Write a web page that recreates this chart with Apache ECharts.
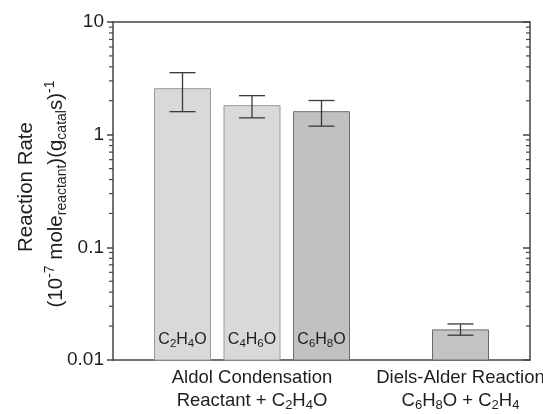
<!DOCTYPE html>
<html><head><meta charset="utf-8">
<script src="https://cdn.jsdelivr.net/npm/echarts@6/dist/echarts.min.js"></script>
<style>html,body{margin:0;padding:0;background:#fff}#c{width:543px;height:414px}</style>
</head><body><div id="c"></div>
<script>
// ---- data ----
const categories = ['', 'C2H4O', 'C4H6O', 'C6H8O', '', 'C6H8O + C2H4', ''];
const rates   = [null, 2.56, 1.81, 1.60, null, 0.0185, null];
const errLow  = [null, 1.60, 1.41, 1.19, null, 0.0166, null];
const errHigh = [null, 3.55, 2.22, 2.01, null, 0.0209, null];
const barLabels = ['', 'C2H4O', 'C4H6O', 'C6H8O', '', '', ''];
const groupLabels = ['', '', 'Aldol Condensation\nReactant + C2H4O', '', '', 'Diels-Alder Reaction\nC6H8O + C2H4', ''];
const yTickValues = [0.01, 0.1, 1, 10];
const yTickLabels = ['0.01', '0.1', '1', '10'];
const yTitle1 = 'Reaction Rate';
// ---- style ----
const barFill   = ['', '#d9d9d9', '#d9d9d9', '#c1c1c1', '', '#c3c3c3', ''];
const barStroke = ['', '#9c9c9c', '#9c9c9c', '#6e6e6e', '', '#6a6a6a', ''];
const TXT = '#1e1e1e';
const FONT = 'Liberation Sans, Arial, sans-serif';
const Y_MIN = 0.01, Y_MAX = 10;

function chem(str, n, s) {
  return str.split('\n').map(line => {
    let out = '';
    const re = /([^0-9]+)|([0-9]+)/g; let m;
    while ((m = re.exec(line))) {
      if (m[1]) out += '{' + n + '|' + m[1] + '}';
      else out += '{' + s + '|' + m[2] + '}';
    }
    return out;
  }).join('\n');
}

const barData = [];
categories.forEach((c, i) => {
  if (rates[i] != null) barData.push([i, rates[i], errLow[i], errHigh[i]]);
});
const minorData = [];
[0.01, 0.1, 1].forEach(d => { for (let k = 2; k <= 9; k++) minorData.push([0, d * k]); });

const chart = echarts.init(document.getElementById('c'), null, {renderer: 'canvas'});
const axisLineStyle = {color: '#444', width: 1.5};

chart.setOption({
  animation: false,
  backgroundColor: '#fff',
  grid: {left: 113, right: 13, top: 22, bottom: 54, containLabel: false, outerBoundsMode: 'none'},
  xAxis: [{
    type: 'category', data: categories, boundaryGap: false,
    axisLine: {lineStyle: axisLineStyle, onZero: false},
    axisTick: {show: false},
    axisLabel: {
      interval: 0, margin: 6, color: TXT,
      formatter: (v, idx) => groupLabels[idx] ? chem(groupLabels[idx], 'n', 's') : '',
      rich: {
        n: {fontSize: 18.5, fontFamily: FONT, color: TXT, lineHeight: 23},
        s: {fontSize: 13, fontFamily: FONT, color: TXT, lineHeight: 12, verticalAlign: 'bottom'}
      }
    },
    splitLine: {show: false}
  }, {
    type: 'category', data: categories, boundaryGap: false, position: 'top',
    axisLine: {lineStyle: axisLineStyle, onZero: false},
    axisTick: {show: false}, axisLabel: {show: false}, splitLine: {show: false}
  }],
  yAxis: [{
    type: 'log', logBase: 10, min: Y_MIN, max: Y_MAX,
    axisLine: {show: true, lineStyle: axisLineStyle},
    axisTick: {show: true, inside: false, length: 6, lineStyle: {color: '#444', width: 1.5}},
    axisLabel: {
      margin: 9, fontSize: 19, fontFamily: FONT, color: TXT,
      formatter: v => { const i = yTickValues.findIndex(t => Math.abs(Math.log10(t) - Math.log10(v)) < 1e-6); return i >= 0 ? yTickLabels[i] : ''; }
    },
    splitLine: {show: false}
  }, {
    type: 'log', logBase: 10, min: Y_MIN, max: Y_MAX, position: 'right',
    axisLine: {show: true, lineStyle: axisLineStyle},
    axisTick: {show: true, inside: true, length: 7, lineStyle: {color: '#444', width: 1.5}},
    axisLabel: {show: false}, splitLine: {show: false}
  }],
  graphic: [{
    type: 'text', x: 26, y: 187, rotation: Math.PI / 2,
    style: {text: yTitle1, fontSize: 20.5, fontFamily: FONT, fill: TXT, align: 'center', verticalAlign: 'middle'}
  }, {
    type: 'text', x: 56, y: 194, rotation: Math.PI / 2,
    style: {
      text: '{n|(10}{p|-7}{n| mole}{s|reactant}{n|)(g}{s|catal}{n|s)}{p|-1}',
      align: 'center', verticalAlign: 'middle',
      rich: {
        n: {fontSize: 20.5, fontFamily: FONT, fill: TXT, color: TXT, lineHeight: 26},
        s: {fontSize: 14, fontFamily: FONT, fill: TXT, color: TXT, lineHeight: 14, verticalAlign: 'bottom'},
        p: {fontSize: 14, fontFamily: FONT, fill: TXT, color: TXT, lineHeight: 14, verticalAlign: 'top'}
      }
    }
  }],
  series: [{
    type: 'custom', coordinateSystem: 'cartesian2d', clip: false, silent: true,
    data: minorData,
    renderItem: (params, api) => {
      const v = api.value(1);
      const l = api.coord([0, v]);
      const r = api.coord([categories.length - 1, v]);
      const st = {stroke: '#444', lineWidth: 1.2};
      return {type: 'group', children: [
        {type: 'line', shape: {x1: l[0] - 4, y1: l[1], x2: l[0], y2: l[1]}, style: st},
        {type: 'line', shape: {x1: r[0] - 4, y1: r[1], x2: r[0], y2: r[1]}, style: st}
      ]};
    }
  }, {
    type: 'custom', coordinateSystem: 'cartesian2d', clip: false, silent: true,
    data: barData,
    renderItem: (params, api) => {
      const i = api.value(0), v = api.value(1), lo = api.value(2), hi = api.value(3);
      const top = api.coord([i, v]);
      const base = api.coord([i, Y_MIN]);
      const pLo = api.coord([i, lo]);
      const pHi = api.coord([i, hi]);
      const w = 56, cap = 26;
      const x = top[0];
      const es = {stroke: '#3a3a3a', lineWidth: 1.3};
      const children = [
        {type: 'rect', shape: {x: x - w / 2, y: top[1], width: w, height: base[1] - top[1]},
         style: {fill: barFill[i], stroke: barStroke[i], lineWidth: 1}},
        {type: 'line', shape: {x1: x, y1: pHi[1], x2: x, y2: pLo[1]}, style: es},
        {type: 'line', shape: {x1: x - cap / 2, y1: pHi[1], x2: x + cap / 2, y2: pHi[1]}, style: es},
        {type: 'line', shape: {x1: x - cap / 2, y1: pLo[1], x2: x + cap / 2, y2: pLo[1]}, style: es}
      ];
      if (barLabels[i]) {
        children.push({
          type: 'text', x: x, y: base[1] - 20,
          style: {
            text: chem(barLabels[i], 'n', 's'), align: 'center', verticalAlign: 'middle',
            rich: {
              n: {fontSize: 16, fontFamily: FONT, fill: TXT, color: TXT, lineHeight: 20},
              s: {fontSize: 11.5, fontFamily: FONT, fill: TXT, color: TXT, lineHeight: 11, verticalAlign: 'bottom'}
            }
          }
        });
      }
      return {type: 'group', children};
    }
  }]
});
</script>
</body></html>
